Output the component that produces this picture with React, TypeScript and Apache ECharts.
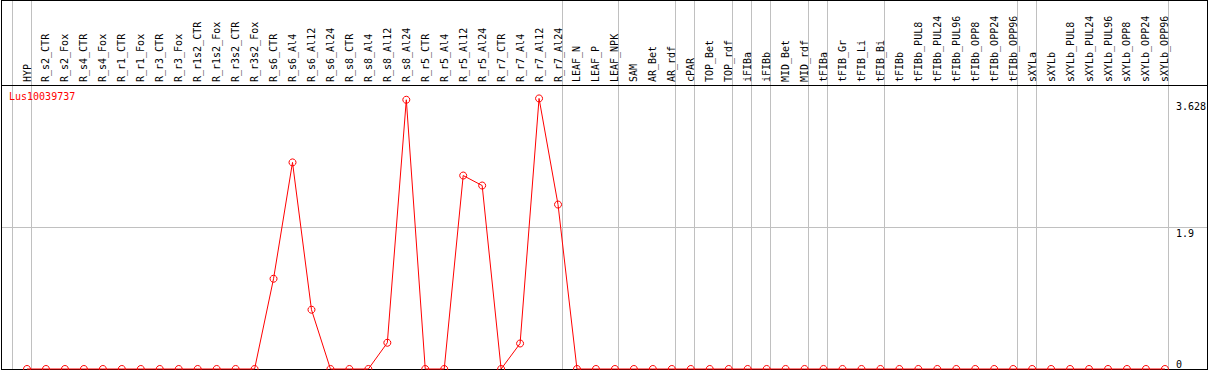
import React, { useEffect, useRef } from "react";
import * as echarts from "echarts";

const seriesName = "Lus10039737";

const categories = [
  "HYP",
  "R_s2_CTR", "R_s2_Fox", "R_s4_CTR", "R_s4_Fox", "R_r1_CTR", "R_r1_Fox",
  "R_r3_CTR", "R_r3_Fox", "R_r1s2_CTR", "R_r1s2_Fox", "R_r3s2_CTR", "R_r3s2_Fox",
  "R_s6_CTR", "R_s6_Al4", "R_s6_Al12", "R_s6_Al24",
  "R_s8_CTR", "R_s8_Al4", "R_s8_Al12", "R_s8_Al24",
  "R_r5_CTR", "R_r5_Al4", "R_r5_Al12", "R_r5_Al24",
  "R_r7_CTR", "R_r7_Al4", "R_r7_Al12", "R_r7_Al24",
  "LEAF_N", "LEAF_P", "LEAF_NPK",
  "SAM", "AR_Bet", "AR_rdf", "cPAR", "TOP_Bet", "TOP_rdf", "iFIBa", "iFIBb",
  "MID_Bet", "MID_rdf", "tFIBa", "tFIB_Gr", "tFIB_Li", "tFIB_Bi",
  "tFIBb", "tFIBb_PUL8", "tFIBb_PUL24", "tFIBb_PUL96", "tFIBb_OPP8", "tFIBb_OPP24", "tFIBb_OPP96",
  "sXYLa", "sXYLb", "sXYLb_PUL8", "sXYLb_PUL24", "sXYLb_PUL96", "sXYLb_OPP8", "sXYLb_OPP24", "sXYLb_OPP96",
];

const values = [
  0,
  0, 0, 0, 0, 0, 0,
  0, 0, 0, 0, 0, 0,
  1.21, 2.77, 0.795, 0,
  0, 0, 0.352, 3.61,
  0, 0, 2.594, 2.46,
  0, 0.342, 3.628, 2.205,
  0, 0, 0,
  0, 0, 0, 0, 0, 0, 0, 0,
  0, 0, 0, 0, 0, 0,
  0, 0, 0, 0, 0, 0, 0,
  0, 0, 0, 0, 0, 0, 0, 0,
];

// group separators drawn just after these categories ("" = before the first one)
const separatorsAfter = [
  "", "HYP", "R_r7_Al24", "LEAF_NPK", "AR_rdf", "cPAR", "TOP_rdf", "iFIBa",
  "iFIBb", "MID_rdf", "tFIBa", "tFIB_Bi", "tFIBb_OPP96", "sXYLa", "sXYLb_OPP96",
];

const yGridValues = [1.9];
const yTopLabels = [1.9, 3.628];
const yBottomLabels = [0];
const yMin = 0;
const yMax = 3.808;

export default function App() {
  const ref = useRef<HTMLDivElement>(null);

  useEffect(() => {
    if (!ref.current) return;
    const chart = echarts.init(ref.current, null, { renderer: "svg" });
    const font = "'DejaVu Sans Mono', monospace";
    const labelStyle = { fontSize: 10, fontFamily: font, color: "#000" };
    const yBase = {
      type: "value",
      min: yMin,
      max: yMax,
      position: "right",
      axisLine: { show: false },
      axisTick: { show: false },
      splitLine: { show: false },
    };
    const topMax = yTopLabels[yTopLabels.length - 1];
    chart.setOption({
      animation: false,
      title: {
        text: seriesName,
        left: 9,
        top: 91,
        padding: 0,
        textStyle: { color: "#ff0000", fontSize: 10, fontFamily: font, fontWeight: "normal" },
      },
      grid: { left: 27, right: 42, top: 85, bottom: 1, containLabel: false },
      xAxis: {
        type: "category",
        data: categories,
        boundaryGap: false,
        position: "top",
        axisLine: { show: false },
        axisTick: { show: false },
        splitLine: { show: false },
        axisLabel: { ...labelStyle, interval: 0, rotate: 90, margin: 3 },
      },
      yAxis: [
        {
          ...yBase,
          axisLabel: {
            ...labelStyle,
            customValues: yTopLabels,
            margin: 11,
            align: "left",
            verticalAlign: "top",
            formatter: (v: number) => (v === topMax ? `{m|${v}}` : `{n|${v}}`),
            rich: {
              m: { ...labelStyle, padding: [3, 0, 0, 0] },
              n: { ...labelStyle, padding: [1, 0, 0, 0] },
            },
          },
        },
        {
          ...yBase,
          axisLabel: { ...labelStyle, customValues: yBottomLabels, margin: 11, align: "left", verticalAlign: "bottom" },
        },
      ],
      series: [
        {
          type: "line",
          name: seriesName,
          data: values,
          yAxisIndex: 0,
          symbol: "circle",
          symbolSize: 7,
          clip: false,
          itemStyle: { color: "rgba(0,0,0,0)", borderColor: "#ff0000", borderWidth: 1 },
          lineStyle: { color: "#ff0000", width: 1 },
          z: 5,
        },
      ],
    });

    const px = (name: string) => chart.convertToPixel({ xAxisIndex: 0 }, name) as number;
    const step = px(categories[1]) - px(categories[0]);
    const H = 370;
    const grey = "#c0c0c0";
    const elements: any[] = [];
    separatorsAfter.forEach((name) => {
      const cx = name === "" ? px(categories[0]) - step : px(name);
      const x = Math.round(cx + 3.5) + 0.5;
      elements.push({
        type: "line",
        z: -10,
        shape: { x1: x, y1: 0, x2: x, y2: H },
        style: { stroke: grey, lineWidth: 1 },
        silent: true,
      });
    });
    yGridValues.forEach((v) => {
      const y = Math.round(chart.convertToPixel({ yAxisIndex: 0 }, v) as number) + 0.5;
      elements.push({
        type: "line",
        z: -10,
        shape: { x1: 1, y1: y, x2: 1208, y2: y },
        style: { stroke: grey, lineWidth: 1 },
        silent: true,
      });
    });
    const black = (x1: number, y1: number, x2: number, y2: number) => ({
      type: "line",
      z: -5,
      shape: { x1, y1, x2, y2 },
      style: { stroke: "#000", lineWidth: 1 },
      silent: true,
    });
    elements.push(black(1, 0.5, 1208, 0.5));
    elements.push(black(1.5, 0, 1.5, H));
    elements.push(black(1207.5, 0, 1207.5, H));
    elements.push(black(1, 85.5, 1208, 85.5));
    elements.push(black(1, 369.5, 1208, 369.5));
    chart.setOption({ graphic: { elements } });

    return () => chart.dispose();
  }, []);

  return (
    <div
      ref={ref}
      style={{ position: "absolute", left: 0, top: 0, width: 1209, height: 370, background: "#fff" }}
    />
  );
}
